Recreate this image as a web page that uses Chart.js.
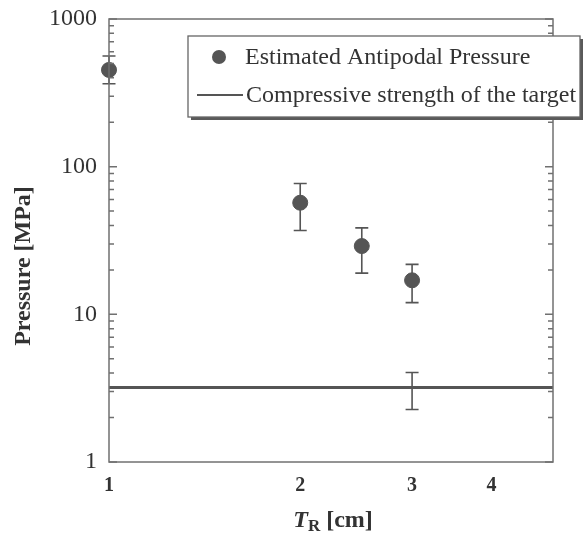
<!DOCTYPE html>
<html>
<head>
<meta charset="utf-8">
<script src="https://cdn.jsdelivr.net/npm/chart.js@4/dist/chart.umd.min.js"></script>
<style>
html,body{margin:0;padding:0;background:#fff;}
#wrap{width:585px;height:533px;position:relative;}
</style>
</head>
<body>
<div id="wrap"><canvas id="c" width="585" height="533"></canvas></div>
<script>
// ---- data ----
const thickness = [1, 2, 2.5, 3];               // T_R [cm]
const pressure = [452, 57, 29, 17];              // Estimated antipodal pressure [MPa]
const pressureUpper = [562, 77, 38.5, 21.8];
const pressureLower = [364, 37, 19, 12];
const strengthX = [1, 5];
const strengthValue = 3.2;                       // compressive strength [MPa]
const strengthErrX = 3;
const strengthUpper = 4.04;
const strengthLower = 2.27;
const xTickValues = [1, 2, 3, 4];
const yTickValues = [1, 10, 100, 1000];
const seriesLabels = ['Estimated Antipodal Pressure', 'Compressive strength of the target'];

const MARK = '#555555';
const AXIS = '#707070';
const TEXT = '#333333';
const SERIF = '"Liberation Serif", "Times New Roman", serif';

const pointData = thickness.map((x, i) => ({x: x, y: pressure[i]}));
const lineData = strengthX.map(x => ({x: x, y: strengthValue}));

const errorBars = thickness.map((x, i) => ({x: x, lo: pressureLower[i], hi: pressureUpper[i]}))
  .concat([{x: strengthErrX, lo: strengthLower, hi: strengthUpper}]);

const decorPlugin = {
  id: 'decor',
  beforeDatasetsDraw(chart) {
    const ctx = chart.ctx;
    const xs = chart.scales.x, ys = chart.scales.y;
    ctx.save();
    ctx.strokeStyle = MARK;
    ctx.lineWidth = 1.6;
    errorBars.forEach(e => {
      const px = xs.getPixelForValue(e.x);
      const y1 = ys.getPixelForValue(e.lo);
      const y2 = ys.getPixelForValue(e.hi);
      ctx.beginPath();
      ctx.moveTo(px, y1); ctx.lineTo(px, y2);
      ctx.moveTo(px - 6.5, y1); ctx.lineTo(px + 6.5, y1);
      ctx.moveTo(px - 6.5, y2); ctx.lineTo(px + 6.5, y2);
      ctx.stroke();
    });
    ctx.restore();
  },
  afterDraw(chart) {
    const ctx = chart.ctx;
    const a = chart.chartArea;
    const xs = chart.scales.x, ys = chart.scales.y;
    ctx.save();
    // frame
    ctx.strokeStyle = AXIS;
    ctx.lineWidth = 1.5;
    ctx.strokeRect(a.left, a.top, a.right - a.left, a.bottom - a.top);
    // y ticks (inward, both sides)
    ctx.beginPath();
    for (let d = 1; d < 1000; d *= 10) {
      for (let m = 1; m <= 10; m++) {
        const v = d * m;
        const py = ys.getPixelForValue(v);
        const len = (m === 1 || m === 10) ? 8 : 5;
        ctx.moveTo(a.left, py); ctx.lineTo(a.left + len, py);
        ctx.moveTo(a.right, py); ctx.lineTo(a.right - len, py);
      }
    }
    ctx.stroke();

    // y title
    ctx.fillStyle = TEXT;
    ctx.save();
    ctx.translate(24, 266);
    ctx.rotate(-Math.PI / 2);
    ctx.font = 'bold 24px ' + SERIF;
    ctx.textAlign = 'center';
    ctx.textBaseline = 'middle';
    ctx.fillText('Pressure [MPa]', 0, 0);
    ctx.restore();

    // x title: T_R [cm]
    const f1 = 'italic bold 24px ' + SERIF;
    const f2 = 'bold 17px ' + SERIF;
    const f3 = 'bold 24px ' + SERIF;
    ctx.font = f1; const w1 = ctx.measureText('T').width;
    ctx.font = f2; const w2 = ctx.measureText('R').width;
    ctx.font = f3; const w3 = ctx.measureText(' [cm]').width;
    let tx = 333 - (w1 + w2 + w3) / 2;
    const by = 527;
    ctx.textAlign = 'left';
    ctx.textBaseline = 'alphabetic';
    ctx.font = f1; ctx.fillText('T', tx, by); tx += w1;
    ctx.font = f2; ctx.fillText('R', tx, by + 4); tx += w2;
    ctx.font = f3; ctx.fillText(' [cm]', tx, by);

    // legend
    const L = 188, T = 36, R = 580, B = 117;
    ctx.fillStyle = '#5a5a5a';
    ctx.fillRect(L + 3, T + 3, R - L, B - T);
    ctx.fillStyle = '#ffffff';
    ctx.fillRect(L, T, R - L, B - T);
    ctx.strokeStyle = '#666';
    ctx.lineWidth = 1.3;
    ctx.strokeRect(L, T, R - L, B - T);
    ctx.fillStyle = MARK;
    ctx.beginPath();
    ctx.arc(219, 57, 7, 0, Math.PI * 2);
    ctx.fill();
    ctx.strokeStyle = MARK;
    ctx.lineWidth = 2;
    ctx.beginPath();
    ctx.moveTo(197, 95); ctx.lineTo(243, 95);
    ctx.stroke();
    ctx.fillStyle = TEXT;
    ctx.font = '24px ' + SERIF;
    ctx.textBaseline = 'middle';
    ctx.fillText(seriesLabels[0], 245, 58);
    ctx.fillText(seriesLabels[1], 246, 96);
    ctx.restore();
  }
};

new Chart(document.getElementById('c'), {
  type: 'scatter',
  data: {
    datasets: [
      {
        label: seriesLabels[1],
        type: 'line',
        data: lineData,
        borderColor: MARK,
        borderWidth: 3,
        pointRadius: 0,
        fill: false,
        clip: false
      },
      {
        label: seriesLabels[0],
        data: pointData,
        backgroundColor: MARK,
        borderColor: MARK,
        pointRadius: 7.5,
        pointHoverRadius: 7.5,
        clip: false
      }
    ]
  },
  options: {
    responsive: false,
    animation: false,
    events: [],
    layout: {padding: {top: 19, right: 32, left: 0, bottom: 0}},
    plugins: {legend: {display: false}, tooltip: {enabled: false}},
    scales: {
      x: {
        type: 'logarithmic',
        min: 1, max: 5,
        grid: {display: false, drawTicks: false},
        border: {display: false},
        afterBuildTicks: s => { s.ticks = xTickValues.map(v => ({value: v})); },
        afterFit: s => { s.height = 71; s.paddingLeft = 0; s.paddingRight = 0; },
        ticks: {
          padding: 12,
          color: TEXT,
          font: {family: SERIF, size: 20, weight: 'bold'},
          maxRotation: 0,
          autoSkip: false,
          callback: v => String(v)
        }
      },
      y: {
        type: 'logarithmic',
        min: 1, max: 1000,
        grid: {display: false, drawTicks: false},
        border: {display: false},
        afterBuildTicks: s => { s.ticks = yTickValues.map(v => ({value: v})); },
        afterFit: s => { s.width = 109; s.paddingTop = 0; s.paddingBottom = 0; },
        ticks: {
          padding: 12,
          color: TEXT,
          font: {family: SERIF, size: 24},
          autoSkip: false,
          callback: v => String(v)
        }
      }
    }
  },
  plugins: [decorPlugin]
});
</script>
</body>
</html>
